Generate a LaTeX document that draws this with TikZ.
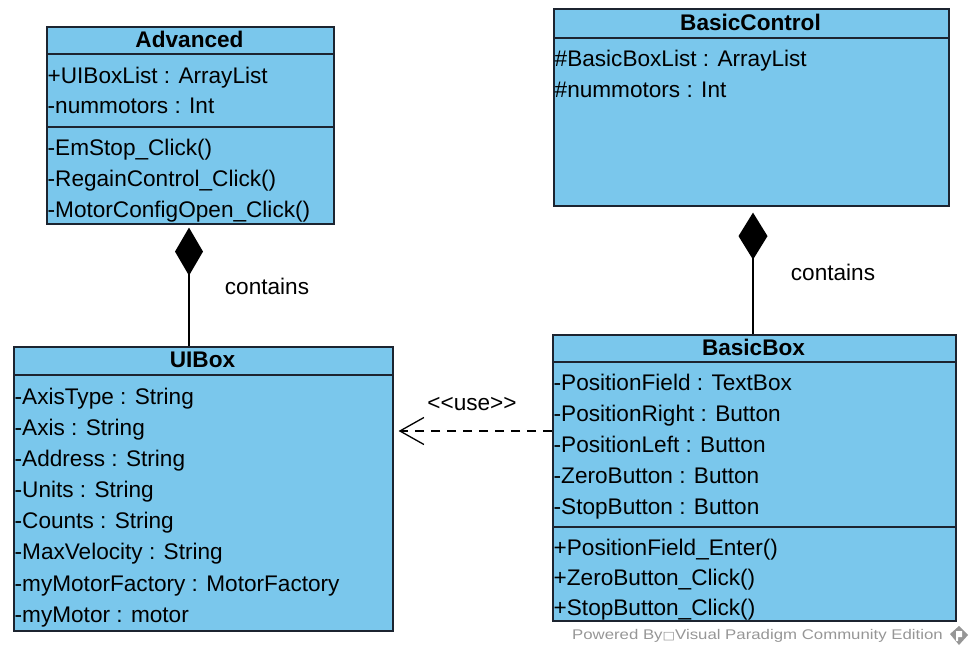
\documentclass[tikz,border=0pt]{standalone}
\usepackage{fontspec}
\setmainfont{Liberation Sans}
\newfontfamily\dejavu{DejaVu Sans}
\usetikzlibrary{arrows.meta}
\definecolor{umlfill}{RGB}{122,199,236}
\definecolor{umlborder}{RGB}{28,36,48}
\definecolor{wmgray}{RGB}{150,150,150}
\newcommand{\attrfont}{\fontsize{22.6}{26}\selectfont}
\newcommand{\ttlfont}{\fontsize{22.6}{26}\selectfont\bfseries}
\tikzset{
  cls/.style={draw=umlborder, fill=umlfill, line width=1.6pt, rectangle, inner sep=0pt, anchor=north west},
  attr/.style={anchor=west, inner sep=0pt, font=\attrfont, text height=15.8pt, text depth=0pt},
  ttl/.style={anchor=center, inner sep=0pt, font=\ttlfont, text height=15.8pt, text depth=0pt},
  sep/.style={draw=umlborder, line width=1.6pt},
  conn/.style={draw=black, line width=1.6pt},
  lbl/.style={inner sep=0pt, font=\attrfont, text height=15.8pt, text depth=0pt},
  wm/.style={inner sep=0pt, font=\fontsize{14}{16}\selectfont, text=wmgray}
}
\begin{document}
\begin{tikzpicture}[x=1pt,y=-1pt]
\useasboundingbox (0,0) rectangle (972,647);
% ---------- Advanced ----------
\node[cls, minimum width=287pt, minimum height=197pt] (adv) at (46,26) {};
\draw[sep] (adv.west |- 0,54) -- (adv.east |- 0,54);
\draw[sep] (adv.west |- 0,127) -- (adv.east |- 0,127);
\node[ttl] (advT) at (189.5,40) {Advanced};
\node[attr] (adv1) at (47.5,76) {+UIBoxList : ArrayList};
\node[attr] (adv2) at (47.5,106) {-nummotors : Int};
\node[attr] (adv3) at (47.5,148) {-EmStop\_Click()};
\node[attr] (adv4) at (47.5,179) {-RegainControl\_Click()};
\node[attr] (adv5) at (47.5,210) {-MotorConfigOpen\_Click()};
% ---------- BasicControl ----------
\node[cls, minimum width=395pt, minimum height=197pt] (bc) at (553,8) {};
\draw[sep] (bc.west |- 0,38) -- (bc.east |- 0,38);
\node[ttl] (bcT) at (750.5,23) {BasicControl};
\node[attr] (bc1) at (554.5,59) {\#BasicBoxList : ArrayList};
\node[attr] (bc2) at (554.5,90) {\#nummotors : Int};
% ---------- UIBox ----------
\node[cls, minimum width=379pt, minimum height=284pt] (ui) at (13,346) {};
\draw[sep] (ui.west |- 0,375) -- (ui.east |- 0,375);
\node[ttl] (uiT) at (202.5,360) {UIBox};
\node[attr] (ui1) at (14.5,397) {-AxisType : String};
\node[attr] (ui2) at (14.5,428) {-Axis : String};
\node[attr] (ui3) at (14.5,459) {-Address : String};
\node[attr] (ui4) at (14.5,490) {-Units : String};
\node[attr] (ui5) at (14.5,521) {-Counts : String};
\node[attr] (ui6) at (14.5,552) {-MaxVelocity : String};
\node[attr] (ui7) at (14.5,584) {-myMotorFactory : MotorFactory};
\node[attr] (ui8) at (14.5,615) {-myMotor : motor};
% ---------- BasicBox ----------
\node[cls, minimum width=403pt, minimum height=286pt] (bb) at (552,334) {};
\draw[sep] (bb.west |- 0,362) -- (bb.east |- 0,362);
\draw[sep] (bb.west |- 0,527) -- (bb.east |- 0,527);
\node[ttl] (bbT) at (753.5,348) {BasicBox};
\node[attr] (bb1) at (553.5,383) {-PositionField : TextBox};
\node[attr] (bb2) at (553.5,414) {-PositionRight : Button};
\node[attr] (bb3) at (553.5,445) {-PositionLeft : Button};
\node[attr] (bb4) at (553.5,476) {-ZeroButton : Button};
\node[attr] (bb5) at (553.5,507) {-StopButton : Button};
\node[attr] (bb6) at (553.5,548) {+PositionField\_Enter()};
\node[attr] (bb7) at (553.5,578) {+ZeroButton\_Click()};
\node[attr] (bb8) at (553.5,608) {+StopButton\_Click()};
% ---------- connectors ----------
\draw[conn, shorten >=3pt, -{Diamond[length=48pt,width=28pt]}] (ui.north -| 189,0) -- (adv.south -| 189,0);
\node[lbl] (c1) at (267,287) {contains};
\draw[conn, shorten >=6pt, -{Diamond[length=47pt,width=29pt]}] (bb.north -| 753,0) -- (bc.south -| 753,0);
\node[lbl] (c2) at (833,273) {contains};
\draw[conn, line width=1.3pt, dash pattern=on 9pt off 7pt, shorten >=5pt, -{Straight Barb[length=24pt,width=27pt,line width=1.3pt]}] (bb.west |- 0,431) -- (ui.east |- 0,431);
\node[lbl] (use) at (472,403) {<\kern0pt<use>\kern0pt>};
% ---------- watermark ----------
\node[wm, anchor=east] (wmtext) at (943,636) {\scalebox{1.2}[1]{Powered By{\dejavu\fontsize{11}{12}\selectfont □}Visual Paradigm Community Edition}};
\fill[wmgray] (950,634) -- (959,626) -- (968,635) -- (959,645) -- cycle;
\fill[white] (956,631) -- (962,631) -- (962,637) -- (958,637) -- (958,641) -- (956,641) -- cycle;
\end{tikzpicture}
\end{document}
